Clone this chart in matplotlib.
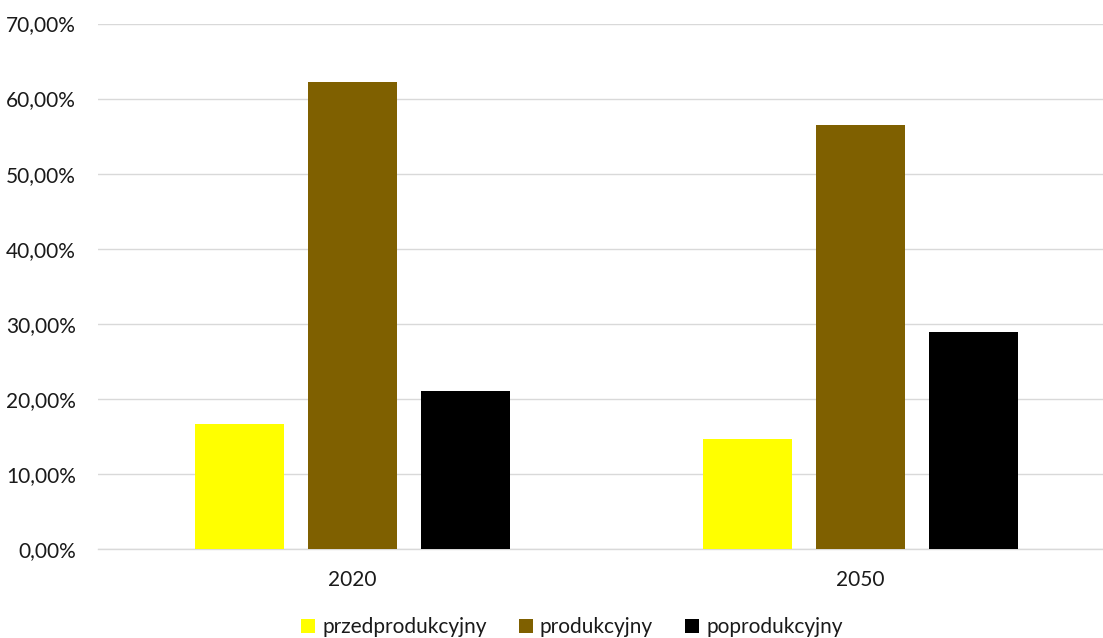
import matplotlib
matplotlib.use("Agg")
import matplotlib.pyplot as plt
from matplotlib.ticker import FuncFormatter
import numpy as np

years = ["2020", "2050"]
series = ["przedprodukcyjny", "produkcyjny", "poprodukcyjny"]
przedprodukcyjny = [0.1671, 0.1462]
produkcyjny = [0.6223, 0.5653]
poprodukcyjny = [0.2110, 0.2889]
colors = ["#FFFF00", "#7F6000", "#000000"]

plt.rcParams['font.family'] = ['Lato', 'DejaVu Sans']

fig = plt.figure(figsize=(11.03, 6.38), dpi=100)
ax = fig.add_axes([98 / 1103, 1 - 549 / 638, 1 - 98 / 1103, (549 - 23.5) / 638])

x = np.arange(len(years))
width = 0.175
step = 0.222
for i, (vals, name) in enumerate(zip([przedprodukcyjny, produkcyjny, poprodukcyjny], series)):
    ax.bar(x + (i - 1) * step, vals, width, color=colors[i], label=name, zorder=3)

ax.set_ylim(0, 0.7)
ax.set_xlim(-0.5, 1.477)
ax.set_yticks(np.arange(0, 0.71, 0.1))
ax.yaxis.set_major_formatter(FuncFormatter(lambda v, p: f"{v * 100:.2f}%".replace(".", ",")))
ax.set_xticks(x)
ax.set_xticklabels(years)

ax.grid(axis='y', color='#D9D9D9', linewidth=1.0, zorder=0)
for s in ['top', 'right', 'left']:
    ax.spines[s].set_visible(False)
ax.spines['bottom'].set_color('#D9D9D9')
ax.spines['bottom'].set_linewidth(1.0)
ax.tick_params(axis='y', length=0, pad=16, labelsize=15, labelcolor='#1a1a1a')
ax.tick_params(axis='x', length=0, pad=15, labelsize=15, labelcolor='#1a1a1a')

fig.legend(loc='center', bbox_to_anchor=(572 / 1103, 1 - 627 / 638), ncol=3,
           frameon=False, fontsize=15, handlelength=0.65, handleheight=0.65,
           handletextpad=0.35, columnspacing=1.55, labelcolor='#1a1a1a')

fig.savefig("out.png", dpi=100)
